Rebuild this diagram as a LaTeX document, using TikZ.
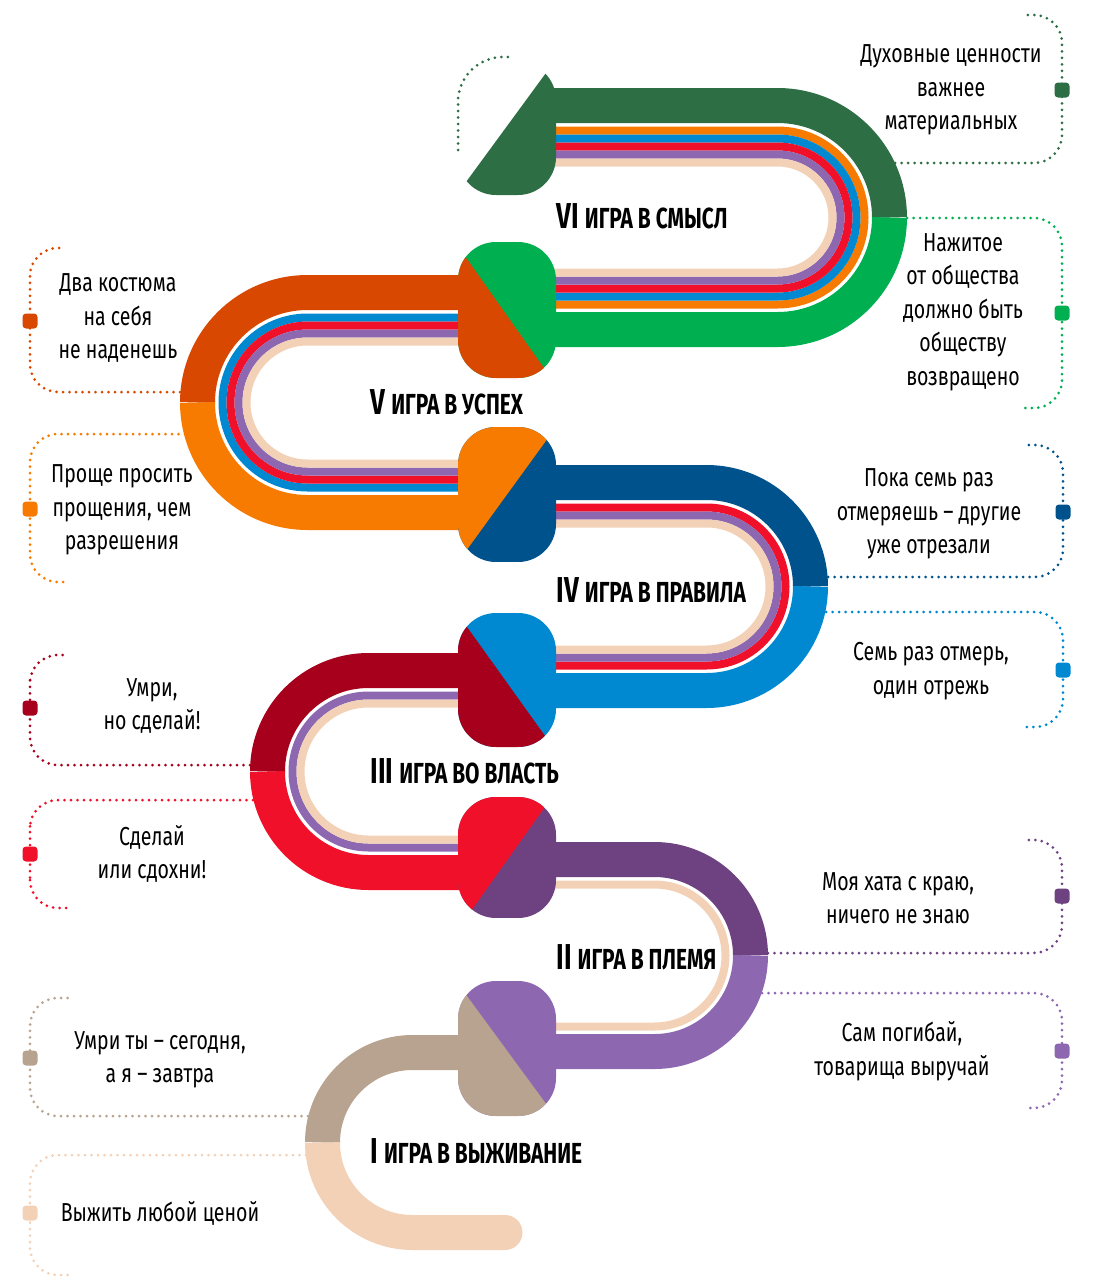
\documentclass[tikz,border=0pt]{standalone}
\usepackage{fontspec}
\setmainfont[FakeStretch=0.75]{Fira Sans}
\newfontfamily\titlefont[FakeStretch=0.72]{Fira Sans}

\definecolor{pine}{HTML}{2E6E45}
\definecolor{grass}{HTML}{00B050}
\definecolor{rust}{HTML}{D84800}
\definecolor{amber}{HTML}{F77B00}
\definecolor{navy}{HTML}{00528C}
\definecolor{sky}{HTML}{0089D1}
\definecolor{wine}{HTML}{A6001C}
\definecolor{scarlet}{HTML}{F0102A}
\definecolor{plum}{HTML}{6E4281}
\definecolor{lilac}{HTML}{8E67B1}
\definecolor{tanc}{HTML}{B8A390}
\definecolor{beigec}{HTML}{F3D1B7}

\tikzset{
band/.style={line width=35},
stripe/.style={line width=8},
leader/.style={line width=3, dash pattern=on 0pt off 6.5pt, line cap=round, rounded corners=28},
tagbox/.style={rectangle, rounded corners=3.5, minimum size=15, inner sep=0pt},
saying/.style={align=center, font=\fontsize{26}{33.5}\selectfont},
title/.style={anchor=base west, font=\titlefont\bfseries}
}
\newcommand{\gametitle}[2]{{\fontsize{36}{36}\selectfont #1}\hspace{6pt}{\fontsize{29}{29}\selectfont #2}}

\begin{document}
\begin{tikzpicture}[x=1pt, y=-1pt]
\useasboundingbox (0,0) rectangle (1101,1280);

% the road, one U per game
\foreach \cx/\cy/\r/\d/\xs/\ct/\cb in {
412.5/1142.5/90/-1/505/tanc/beigec,
654.5/955.5/96/1/505/plum/lilac,
368.5/771.5/101/-1/505/wine/scarlet,
706.5/586.5/104/1/505/navy/sky,
307.5/402.5/110/-1/505/rust/amber,
777.5/217.5/112/1/540/pine/grass}
{
\draw[band,\ct] (\xs,\cy-\r) -- (\cx,\cy-\r) arc[start angle=-90, delta angle=90*\d, radius=\r];
\draw[band,\cb] (\cx+\d*\r,\cy) arc[start angle=-90+90*\d, delta angle=90*\d, radius=\r] -- (505,\cy+\r);
}
\fill[beigec] (505,1232.5) circle[radius=17.5];

% inner stripes
\foreach \cx/\cy/\r/\d/\xs/\c in {
654.5/955.5/71/1/505/beigec,
368.5/771.5/76/-1/505/lilac, 368.5/771.5/68/-1/505/beigec,
706.5/586.5/79/1/505/scarlet, 706.5/586.5/71/1/505/lilac, 706.5/586.5/63/1/505/beigec,
307.5/402.5/85/-1/505/sky, 307.5/402.5/77/-1/505/scarlet, 307.5/402.5/69/-1/505/lilac, 307.5/402.5/61/-1/505/beigec,
777.5/217.5/87/1/540/amber, 777.5/217.5/79/1/540/sky, 777.5/217.5/71/1/540/scarlet, 777.5/217.5/63/1/540/lilac, 777.5/217.5/55/1/540/beigec}
\draw[stripe,\c] (\xs,\cy-\r) -- (\cx,\cy-\r) arc[start angle=-90, delta angle=180*\d, radius=\r] -- (505,\cy+\r);

% joints
\foreach \yt/\yb/\xt/\xb/\cl/\cr in {
981/1116/456/555/tanc/lilac,
797/918/552/466/scarlet/plum,
613/747/457/553/wine/sky,
427/562/556/458/amber/navy,
242/378/455/551/rust/grass}
{
\begin{scope}
\clip[rounded corners=38] (458,\yt) rectangle (556,\yb);
\fill[\cr] (450,\yt) rectangle (565,\yb);
\fill[\cl] (\xt,\yt) -- (\xb,\yb) -- (440,\yb) -- (440,\yt) -- cycle;
\end{scope}
}

% arrow head
\begin{scope}
\clip[rounded corners=38] (458,62) rectangle (556,195);
\fill[pine] (554,62) -- (456.5,195) -- (570,195) -- (570,62) -- cycle;
\end{scope}
\coordinate (a0) at (458,150);
\coordinate (a1) at (512,57);
\draw[leader,pine,rounded corners=45] (a0) |- (a1);

% game titles
\node[title] (g6) at (553,228) {\gametitle{VI}{ИГРА В СМЫСЛ}};
\node[title] (g5) at (367,414) {\gametitle{V}{ИГРА В УСПЕХ}};
\node[title] (g4) at (553,602) {\gametitle{IV}{ИГРА В ПРАВИЛА}};
\node[title] (g3) at (367,783) {\gametitle{III}{ИГРА ВО ВЛАСТЬ}};
\node[title] (g2) at (553,969) {\gametitle{II}{ИГРА В ПЛЕМЯ}};
\node[title] (g1) at (367,1163) {\gametitle{I}{ИГРА В ВЫЖИВАНИЕ}};

% sayings
\node[saying] (t6a) at (951,90) {Духовные ценности\\важнее\\материальных};
\node[saying] (t6b) at (963,312) {Нажитое\\от общества\\должно быть\\обществу\\возвращено};
\node[saying] (t4a) at (929,514) {Пока семь раз\\отмеряешь – другие\\уже отрезали};
\node[saying] (t4b) at (931,671) {Семь раз отмерь,\\один отрежь};
\node[saying] (t2a) at (898,898) {Моя хата с краю,\\ничего не знаю};
\node[saying] (t2b) at (902,1051) {Сам погибай,\\товарища выручай};
\node[saying] (t5a) at (118,318) {Два костюма\\на себя\\не наденешь};
\node[saying] (t5b) at (122,510) {Проще просить\\прощения, чем\\разрешения};
\node[saying] (t3a) at (152,706) {Умри,\\но сделай!};
\node[saying] (t3b) at (152,854) {Сделай\\или сдохни!};
\node[saying] (t1a) at (160,1060) {Умри ты – сегодня,\\а я – завтра};
\node[saying] (t1b) at (160,1213) {Выжить любой ценой};

% tags and dotted leaders
\foreach \n/\c/\ex/\ey/\mx/\my/\fx/\fy in {
6a/pine/895/163/1062/90/1025/15,
6b/grass/907/218/1062/313/1025/408,
4a/navy/828/577/1063/512/1023/445,
4b/sky/826/612/1063/670/1023/727,
2a/plum/768/953/1062/896/1025/840,
2b/lilac/762/993/1062/1051/1025/1108,
5a/rust/180/392/30/321/65/248,
5b/amber/185/434/30/509/68/582,
3a/wine/250/765/30/708/68/655,
3b/scarlet/253/800/30/854/68/908,
1a/tanc/308/1116/30/1058/68/998,
1b/beigec/306/1155/30/1213/68/1275}
{
\node[tagbox,fill=\c] (m\n) at (\mx,\my) {};
\coordinate (e\n) at (\ex,\ey);
\coordinate (f\n) at (\fx,\fy);
\draw[leader,\c] (e\n) -| (m\n.center) |- (f\n);
}
\end{tikzpicture}
\end{document}
